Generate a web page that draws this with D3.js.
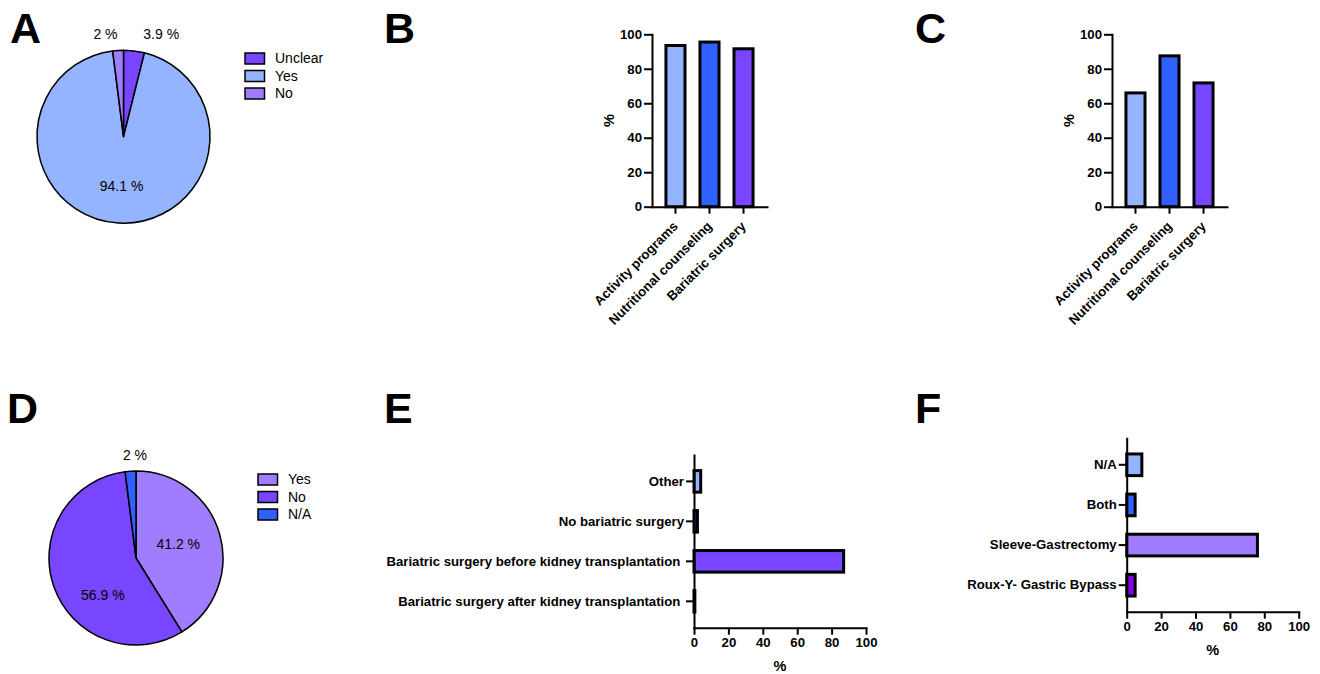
<!DOCTYPE html>
<html>
<head>
<meta charset="utf-8">
<script src="https://cdn.jsdelivr.net/npm/d3@7"></script>
<style>
  body { margin: 0; background: #fff; }
  text { font-family: "Liberation Sans", Arial, Helvetica, sans-serif; white-space: pre; }
</style>
</head>
<body>
<svg id="chart" width="1320" height="674"></svg>
<script>
// colours used across panels
const LIGHT_BLUE = "#94b4ff", BLUE = "#3060ff", PURPLE = "#7846ff",
      LIGHT_PURPLE = "#a07cff", VIOLET = "#8a00e8";

// A - pie
const pieALabels = ["Unclear", "Yes", "No"];
const pieAValues = [3.9, 94.1, 2];

// B / C - columns
const serviceCategories = ["Activity programs", "Nutritional counseling", "Bariatric surgery"];
const serviceBValues = [93.5, 95.5, 91.6];
const serviceCValues = [66, 87.5, 71.8];

// D - pie
const pieDLabels = ["Yes", "No", "N/A"];
const pieDValues = [41.2, 56.9, 2];

// E - horizontal bars (the two long labels carry a trailing space, as in the original)
const timingCategories = ["Other", "No bariatric surgery",
  "Bariatric surgery before kidney transplantation ",
  "Bariatric surgery after kidney transplantation "];
const timingValues = [3.9, 2.0, 87, 0.5];

// F - horizontal bars
const procedureCategories = ["N/A", "Both", "Sleeve-Gastrectomy", "Roux-Y- Gastric Bypass"];
const procedureValues = [8.8, 4.9, 76, 4.9];

const percentTicks = [0, 20, 40, 60, 80, 100];

const svg = d3.select("#chart");
svg.append("rect").attr("width", 1320).attr("height", 674).attr("fill", "#fff");

// panel letters
[["A", 10, 43], ["B", 384, 43], ["C", 915, 43],
 ["D", 7, 423], ["E", 384, 423], ["F", 915, 423]].forEach(([t, x, y]) => {
  svg.append("text").attr("x", x).attr("y", y)
    .attr("font-size", 43).attr("font-weight", "bold").text(t);
});

function styleAxis(g) {
  g.attr("font-size", 13.2).attr("font-weight", "bold")
    .attr("font-family", '"Liberation Sans", Arial, sans-serif');
  g.select(".domain").attr("stroke", "#000").attr("stroke-width", 2).attr("stroke-linecap", "square");
  g.selectAll(".tick line").attr("stroke", "#000").attr("stroke-width", 2);
  g.selectAll(".tick text").attr("fill", "#000");
}

function drawPie(opt) {
  const g = svg.append("g").attr("transform", `translate(${opt.cx},${opt.cy})`);
  const arcs = d3.pie().sort(null)(opt.values);
  const arc = d3.arc().innerRadius(0).outerRadius(opt.r);

  g.selectAll("path").data(arcs).join("path")
    .attr("d", arc)
    .attr("fill", (d, i) => opt.colors[i])
    .attr("stroke", "#000")
    .attr("stroke-width", 1.5)
    .attr("stroke-linejoin", "round");

  g.selectAll("text.lbl").data(arcs).join("text")
    .attr("class", "lbl")
    .attr("transform", (d, i) => {
      const rr = opt.labelRadius[i];
      const c = d3.arc().innerRadius(rr).outerRadius(rr).centroid(d);
      return `translate(${c[0] + opt.nudge[i][0]},${c[1] + opt.nudge[i][1]})`;
    })
    .attr("text-anchor", "middle")
    .attr("dy", "0.35em")
    .attr("font-size", 14)
    .text(d => `${d.data} %`);

  const lg = svg.append("g").attr("transform", `translate(${opt.legendX},${opt.legendY})`);
  opt.labels.forEach((name, i) => {
    lg.append("rect").attr("x", 0).attr("y", i * 17.5)
      .attr("width", 19.5).attr("height", 11)
      .attr("fill", opt.colors[i]).attr("stroke", "#000").attr("stroke-width", 1.5);
    lg.append("text").attr("x", 30).attr("y", i * 17.5 + 5.5)
      .attr("dy", "0.35em").attr("font-size", 14).text(name);
  });
}

function drawColumns(opt) {
  const x = d3.scaleBand().domain(serviceCategories)
    .range([opt.x0, opt.x1]).paddingInner(0.44).paddingOuter(0.41);
  const y = d3.scaleLinear().domain([0, 100]).range([opt.y0, opt.y1]);

  svg.append("g").selectAll("rect").data(opt.values).join("rect")
    .attr("x", (d, i) => x(serviceCategories[i]))
    .attr("y", d => y(d))
    .attr("width", x.bandwidth())
    .attr("height", d => y(0) - y(d))
    .attr("fill", (d, i) => opt.colors[i])
    .attr("stroke", "#000").attr("stroke-width", 3);

  svg.append("g").attr("transform", `translate(${opt.x0},0)`)
    .call(d3.axisLeft(y).tickValues(percentTicks).tickSize(8).tickPadding(2).tickSizeOuter(0))
    .call(styleAxis);

  const xa = svg.append("g").attr("transform", `translate(0,${opt.y0})`)
    .call(d3.axisBottom(x).tickSize(7).tickSizeOuter(0))
    .call(styleAxis);
  xa.selectAll(".tick text")
    .attr("x", 0).attr("y", 0).attr("dy", "0.35em")
    .attr("text-anchor", "end")
    .attr("transform", "translate(0,17) rotate(-45)");

  svg.append("text")
    .attr("transform", `translate(${opt.x0 - 43},${(opt.y0 + opt.y1) / 2}) rotate(-90)`)
    .attr("text-anchor", "middle").attr("dy", "0.35em")
    .attr("font-size", 14.5).attr("font-weight", "bold").text("%");
}

function drawBars(opt) {
  const x = d3.scaleLinear().domain([0, 100]).range([opt.x0, opt.x1]);
  const y = d3.scaleBand().domain(opt.categories)
    .range([opt.y0, opt.y1]).paddingInner(0.46).paddingOuter(0.39);

  svg.append("g").selectAll("rect").data(opt.values).join("rect")
    .attr("x", x(0))
    .attr("y", (d, i) => y(opt.categories[i]))
    .attr("width", d => x(d) - x(0))
    .attr("height", y.bandwidth())
    .attr("fill", (d, i) => opt.colors[i])
    .attr("stroke", "#000").attr("stroke-width", 3);

  svg.append("g").attr("transform", `translate(${opt.x0},0)`)
    .call(d3.axisLeft(y).tickSize(8).tickPadding(2).tickSizeOuter(0))
    .call(styleAxis);

  svg.append("g").attr("transform", `translate(0,${opt.y1})`)
    .call(d3.axisBottom(x).tickValues(percentTicks).tickSize(7).tickPadding(3).tickSizeOuter(0))
    .call(styleAxis);

  svg.append("text")
    .attr("x", (opt.x0 + opt.x1) / 2).attr("y", opt.y1 + 38)
    .attr("text-anchor", "middle").attr("dy", "0.35em")
    .attr("font-size", 14.5).attr("font-weight", "bold").text("%");
}

// A
drawPie({
  cx: 123.5, cy: 136.7, r: 86.5,
  labels: pieALabels, values: pieAValues,
  colors: [PURPLE, LIGHT_BLUE, LIGHT_PURPLE],
  labelRadius: [104, 49, 104],
  nudge: [[25, 0.5], [1, 0.5], [-11.5, 1]],
  legendX: 245, legendY: 53
});

// B, C
drawColumns({ x0: 652, x1: 767, y0: 206.7, y1: 34.3, values: serviceBValues,
  colors: [LIGHT_BLUE, BLUE, PURPLE] });
drawColumns({ x0: 1112, x1: 1227, y0: 206.7, y1: 34.3, values: serviceCValues,
  colors: [LIGHT_BLUE, BLUE, PURPLE] });

// D
drawPie({
  cx: 136, cy: 558, r: 87,
  labels: pieDLabels, values: pieDValues,
  colors: [LIGHT_PURPLE, PURPLE, BLUE],
  labelRadius: [45, 50, 104],
  nudge: [[-1, -1.5], [14, 20.5], [5.5, 1]],
  legendX: 258, legendY: 474
});

// E, F
drawBars({ x0: 694, x1: 866, y0: 455, y1: 627.7,
  categories: timingCategories, values: timingValues,
  colors: [LIGHT_BLUE, BLUE, PURPLE, LIGHT_PURPLE] });
drawBars({ x0: 1126.7, x1: 1298.7, y0: 438.3, y1: 611.7,
  categories: procedureCategories, values: procedureValues,
  colors: [LIGHT_BLUE, BLUE, LIGHT_PURPLE, VIOLET] });
</script>
</body>
</html>
